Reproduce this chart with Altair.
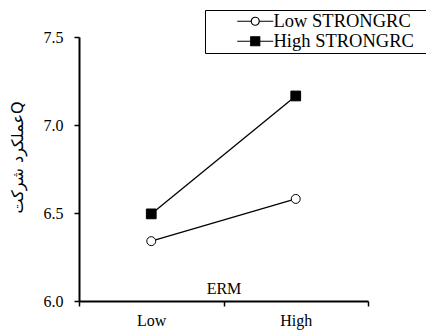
import altair as alt
import pandas as pd

erm_levels = ["Low", "High"]
series_names = ["Low STRONGRC", "High STRONGRC"]
low_strongrc = [6.34, 6.58]
high_strongrc = [6.495, 7.165]
y_ticks = [6.0, 6.5, 7.0, 7.5]

rows = []
for s, vals in zip(series_names, [low_strongrc, high_strongrc]):
    for e, v in zip(erm_levels, vals):
        rows.append({"ERM": e, "value": v, "series": s})
df = pd.DataFrame(rows)

serif = "Liberation Serif"

x_enc = alt.X(
    "ERM:N",
    sort=erm_levels,
    scale=alt.Scale(type="band", paddingInner=0, paddingOuter=0),
    axis=alt.Axis(
        title="ERM", titleY=-13, titleBaseline="middle", titleFont=serif, titleFontSize=16,
        titleFontWeight="normal", titleColor="black",
        labelAngle=0, labelFont=serif, labelFontSize=16, labelColor="black",
        labelPadding=6, tickBand="extent", tickSize=5, tickColor="black",
        domainColor="black", domainWidth=2, tickWidth=1.5,
    ),
)
y_enc = alt.Y(
    "value:Q",
    scale=alt.Scale(domain=[6.0, 7.5], nice=False, zero=False),
    axis=alt.Axis(
        values=y_ticks, format=".1f",
        title="عملکرد شرکتQ", titleX=-62, titleY=120, titleAngle=-90,
        titleAlign="center", titleBaseline="middle",
        titleFont="DejaVu Sans", titleFontSize=16, titleFontWeight="normal",
        titleColor="black",
        labelFont=serif, labelFontSize=16, labelColor="black", labelPadding=11,
        tickSize=5, tickColor="black", tickWidth=1.5,
        domainColor="black", domainWidth=2,
    ),
)

lines = alt.Chart(df).mark_line(color="black", strokeWidth=1.3).encode(
    x=x_enc, y=y_enc, detail="series:N"
)

points = alt.Chart(df).mark_point(filled=True, stroke="black", strokeWidth=1, opacity=1).encode(
    x=x_enc, y=y_enc,
    shape=alt.Shape("series:N", scale=alt.Scale(domain=series_names, range=["circle", "square"]), legend=None),
    fill=alt.Fill("series:N", scale=alt.Scale(domain=series_names, range=["white", "black"]), legend=None),
    size=alt.Size("series:N", scale=alt.Scale(domain=series_names, range=[80, 95]), legend=None),
)

# legend symbols: short line with marker (units of 5px)
circle_path = ("M4.2,0H7.0M8.6,0H11.4"
               "M8.6,0A0.8,0.8,0,1,1,7.0,0A0.8,0.8,0,1,1,8.6,0Z")
square_path = "M4.2,0H11.4M6.9,-0.9H8.7V0.9H6.9Z"

pad = "\u2800" * 12
legend_props = dict(
    orient="none", legendX=126, legendY=-27, title=None,
    symbolSize=100, symbolOpacity=1, symbolStrokeWidth=1.2,
    labelFont=serif, labelFontSize=18.5, labelColor="black",
    labelOffset=48, rowPadding=1, padding=2,
    strokeColor="black", fillColor="white",
    labelExpr="datum.label + '" + pad + "'",
    labelLimit=500,
)

legend_layer = alt.Chart(df).mark_point(filled=True, strokeWidth=1.2, opacity=0).encode(
    x=x_enc, y=y_enc,
    shape=alt.Shape("series:N", scale=alt.Scale(domain=series_names, range=[circle_path, square_path]),
                    legend=alt.Legend(**legend_props)),
    fill=alt.Fill("series:N", scale=alt.Scale(domain=series_names, range=["white", "black"]),
                  legend=alt.Legend(**legend_props)),
    stroke=alt.Stroke("series:N", scale=alt.Scale(domain=series_names, range=["black", "black"]),
                      legend=alt.Legend(**legend_props)),
)

chart = alt.layer(lines, points, legend_layer).resolve_scale(
    shape="independent", fill="independent", size="independent", stroke="independent"
).properties(
    width=289, height=264,
    autosize=alt.AutoSizeParams(type="none"),
    padding={"left": 71, "top": 29, "right": 58, "bottom": 30},
    background="white",
).configure_view(stroke=None).configure_axis(grid=False)

chart.save("out.html", embed_options={"renderer": "svg", "actions": False})
